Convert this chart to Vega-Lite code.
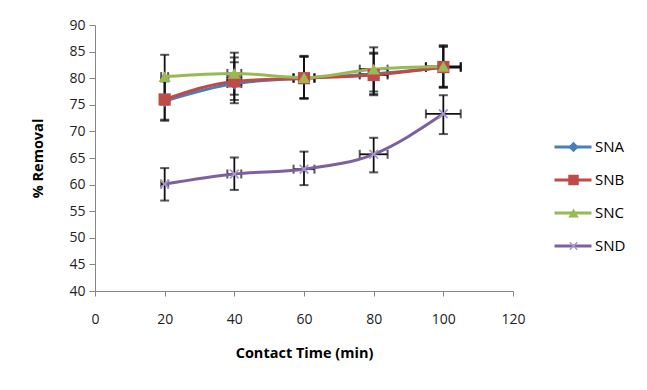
{
  "$schema": "https://vega.github.io/schema/vega-lite/v6.json",
  "width": 418,
  "height": 266,
  "autosize": {"type": "none"},
  "padding": {"left": 95, "top": 25, "right": 134, "bottom": 99},
  "background": "white",
  "config": {
    "view": {"stroke": null},
    "font": "Open Sans",
    "axis": {"grid": false, "domainColor": "#868686", "tickColor": "#868686", "labelColor": "#222", "labelFont": "Open Sans", "labelFontSize": 14, "titleFont": "Open Sans", "titleFontSize": 14.5, "titleFontWeight": "bold", "titleColor": "#000", "labelFlush": false}
  },
  "data": {"values": [
    {"series": "SNA", "time": 20, "value": 75.7, "ylo": 72.0, "yhi": 79.4, "xlo": 19, "xhi": 21},
    {"series": "SNA", "time": 40, "value": 79.0, "ylo": 75.3, "yhi": 83.0, "xlo": 38, "xhi": 42},
    {"series": "SNA", "time": 60, "value": 80.0, "ylo": 76.2, "yhi": 84.0, "xlo": 57, "xhi": 63},
    {"series": "SNA", "time": 80, "value": 80.8, "ylo": 77.0, "yhi": 84.6, "xlo": 76, "xhi": 84},
    {"series": "SNA", "time": 100, "value": 82.0, "ylo": 78.2, "yhi": 85.9, "xlo": 95, "xhi": 105},
    {"series": "SNB", "time": 20, "value": 76.0, "ylo": 72.2, "yhi": 80.0, "xlo": 19, "xhi": 21},
    {"series": "SNB", "time": 40, "value": 79.4, "ylo": 75.9, "yhi": 83.9, "xlo": 38, "xhi": 42},
    {"series": "SNB", "time": 60, "value": 80.0, "ylo": 76.2, "yhi": 84.1, "xlo": 57, "xhi": 63},
    {"series": "SNB", "time": 80, "value": 80.6, "ylo": 76.8, "yhi": 84.8, "xlo": 76, "xhi": 84},
    {"series": "SNB", "time": 100, "value": 82.1, "ylo": 78.3, "yhi": 86.0, "xlo": 95, "xhi": 105},
    {"series": "SNC", "time": 20, "value": 80.3, "ylo": 76.3, "yhi": 84.4, "xlo": 19, "xhi": 21},
    {"series": "SNC", "time": 40, "value": 80.9, "ylo": 76.9, "yhi": 84.8, "xlo": 38, "xhi": 42},
    {"series": "SNC", "time": 60, "value": 80.1, "ylo": 76.2, "yhi": 84.2, "xlo": 57, "xhi": 63},
    {"series": "SNC", "time": 80, "value": 81.7, "ylo": 77.5, "yhi": 85.8, "xlo": 76, "xhi": 84},
    {"series": "SNC", "time": 100, "value": 82.2, "ylo": 78.4, "yhi": 86.2, "xlo": 95, "xhi": 105},
    {"series": "SND", "time": 20, "value": 60.1, "ylo": 57.0, "yhi": 63.1, "xlo": 19, "xhi": 21},
    {"series": "SND", "time": 40, "value": 62.0, "ylo": 59.0, "yhi": 65.1, "xlo": 38, "xhi": 42},
    {"series": "SND", "time": 60, "value": 62.9, "ylo": 59.9, "yhi": 66.2, "xlo": 57, "xhi": 63},
    {"series": "SND", "time": 80, "value": 65.7, "ylo": 62.3, "yhi": 68.8, "xlo": 76, "xhi": 84},
    {"series": "SND", "time": 100, "value": 73.3, "ylo": 69.5, "yhi": 76.8, "xlo": 95, "xhi": 105}
  ]},
  "encoding": {
    "x": {"field": "time", "type": "quantitative", "scale": {"domain": [0, 120], "nice": false, "zero": false},
      "axis": {"values": [0, 20, 40, 60, 80, 100, 120], "title": "Contact Time (min)", "tickSize": 5, "labelPadding": 16, "titlePadding": 20}},
    "y": {"field": "value", "type": "quantitative", "scale": {"domain": [40, 90], "nice": false, "zero": false},
      "axis": {"values": [40, 45, 50, 55, 60, 65, 70, 75, 80, 85, 90], "title": "% Removal", "tickSize": 6, "labelPadding": 4, "titlePadding": 23}}
  },
  "layer": [
    {"mark": {"type": "rule", "color": "#111", "strokeWidth": 1.8},
     "encoding": {"y": {"field": "ylo", "type": "quantitative"}, "y2": {"field": "yhi"}}},
    {"transform": [{"fold": ["ylo", "yhi"], "as": ["k", "yv"]}],
     "mark": {"type": "tick", "orient": "horizontal", "color": "#111", "size": 9, "thickness": 2},
     "encoding": {"y": {"field": "yv", "type": "quantitative"}}},
    {"mark": {"type": "rule", "color": "#111", "strokeWidth": 1.8},
     "encoding": {"x": {"field": "xlo", "type": "quantitative"}, "x2": {"field": "xhi"}}},
    {"transform": [{"fold": ["xlo", "xhi"], "as": ["k", "xv"]}],
     "mark": {"type": "tick", "orient": "vertical", "color": "#111", "size": 9, "thickness": 2},
     "encoding": {"x": {"field": "xv", "type": "quantitative"}}},
    {"mark": {"type": "line", "interpolate": "monotone", "strokeWidth": 3},
     "encoding": {"stroke": {"field": "series", "type": "nominal",
        "scale": {"domain": ["SNA", "SNB", "SNC", "SND"], "range": ["#4A7EBB", "#BE4B48", "#98B954", "#7D60A0"]},
        "legend": {"title": null, "orient": "none", "legendX": 458, "legendY": 112, "symbolType": "stroke", "symbolSize": 1369, "symbolStrokeWidth": 3, "clipHeight": 20, "rowPadding": 13, "labelOffset": 2, "labelFont": "Open Sans", "labelFontSize": 15, "labelColor": "#000", "padding": 0}}}},
    {"mark": {"type": "point", "filled": true, "opacity": 1, "size": 150},
     "encoding": {
       "fill": {"field": "series", "type": "nominal", "scale": {"range": ["#4A7EBB", "#BE4B48", "#98B954", "#A899C9"]},
         "legend": {"title": null, "orient": "right", "offset": -59, "padding": 112, "symbolSize": 110, "clipHeight": 20, "rowPadding": 13, "labelOffset": 4, "labelFontSize": 15, "labelExpr": "''", "symbolStrokeWidth": 0}},
       "shape": {"field": "series", "type": "nominal", "scale": {"range": ["diamond", "square", "triangle-up", "M0.601,-0.813L0.813,-0.601L0.212,0L0.813,0.601L0.601,0.813L0,0.212L-0.601,0.813L-0.813,0.601L-0.212,0L-0.813,-0.601L-0.601,-0.813L0,-0.212Z"]},
         "legend": {"title": null, "orient": "right", "offset": -59, "padding": 112, "symbolSize": 110, "clipHeight": 20, "rowPadding": 13, "labelOffset": 4, "labelFontSize": 15, "labelExpr": "''", "symbolStrokeWidth": 0}}
     }}
  ]
}
